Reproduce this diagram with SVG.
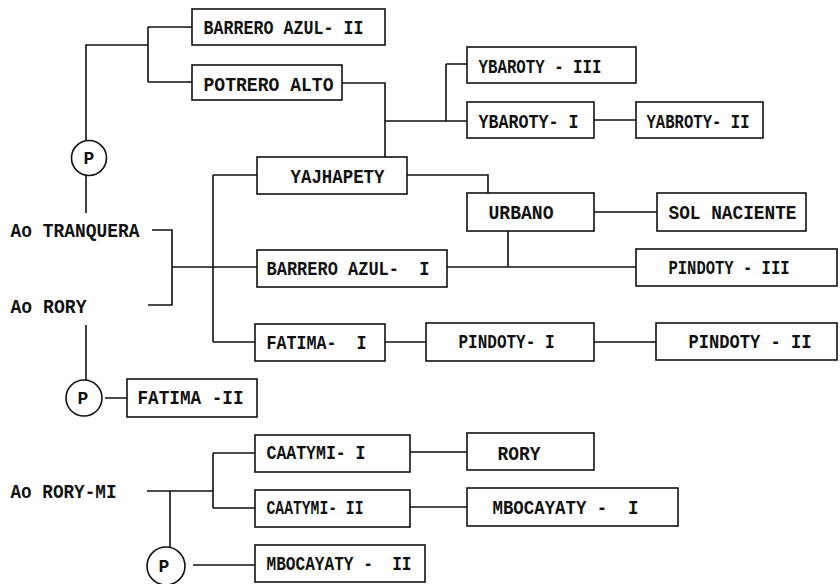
<svg xmlns="http://www.w3.org/2000/svg" width="840" height="584" viewBox="0 0 840 584">
<style>
.b{fill:#fff;stroke:#111;stroke-width:1.6}
.c{fill:none;stroke:#111;stroke-width:1.6}
.t{font-family:"Liberation Mono","DejaVu Sans Mono",monospace;font-weight:bold;font-size:20px;fill:#111;white-space:pre}
.p{font-family:"Liberation Mono","DejaVu Sans Mono",monospace;font-weight:bold;font-size:18px;fill:#111;text-anchor:middle}
</style>
<rect width="840" height="584" fill="#fff"/>
<g id="connectors" class="c">
<path d="M86 140V45H148M148 27V82M148 27H192M148 82H192"/>
<path d="M86 176V213"/>
<path d="M342 83H385V157M385 121H446M446 64V121M446 64H467M446 121H467"/>
<path d="M594 120H636"/>
<path d="M407 175H488V193"/>
<path d="M594 212H657"/>
<path d="M508 231V267M447 267H636"/>
<path d="M152 230H172V305H148M172 267H257"/>
<path d="M213 175V342M213 175H257M213 342H255"/>
<path d="M385 342H426M594 342H656"/>
<path d="M86 325V380M105 398H127"/>
<path d="M147 491H213M213 453V508M213 453H255M213 508H255"/>
<path d="M170 491V547M193 565H255"/>
<path d="M410 452H467M410 507H467"/>
</g>
<g id="n-barrero-azul-2"><rect class="b" x="192" y="9" width="193" height="36"/><text class="t" x="203.5" y="34" textLength="160" lengthAdjust="spacingAndGlyphs">BARRERO AZUL- II</text></g>
<g id="n-potrero-alto"><rect class="b" x="192" y="65" width="150" height="35"/><text class="t" x="203.5" y="91" textLength="130" lengthAdjust="spacingAndGlyphs">POTRERO ALTO</text></g>
<g id="n-ybaroty-3"><rect class="b" x="467" y="47" width="169" height="36"/><text class="t" x="478.5" y="73" textLength="123" lengthAdjust="spacingAndGlyphs">YBAROTY - III</text></g>
<g id="n-ybaroty-1"><rect class="b" x="467" y="102" width="127" height="36"/><text class="t" x="478.5" y="128" textLength="100" lengthAdjust="spacingAndGlyphs">YBAROTY- I</text></g>
<g id="n-yabroty-2"><rect class="b" x="636" y="102" width="127" height="36"/><text class="t" x="646.5" y="128" textLength="103" lengthAdjust="spacingAndGlyphs">YABROTY- II</text></g>
<g id="n-yajhapety"><rect class="b" x="257" y="157" width="150" height="37"/><text class="t" x="290.5" y="183" textLength="94" lengthAdjust="spacingAndGlyphs">YAJHAPETY</text></g>
<g id="n-urbano"><rect class="b" x="467" y="193" width="127" height="38"/><text class="t" x="488.5" y="219" textLength="65" lengthAdjust="spacingAndGlyphs">URBANO</text></g>
<g id="n-sol-naciente"><rect class="b" x="657" y="193" width="149" height="38"/><text class="t" x="668.5" y="219" textLength="128" lengthAdjust="spacingAndGlyphs">SOL NACIENTE</text></g>
<g id="n-barrero-azul-1"><rect class="b" x="257" y="250" width="190" height="37"/><text class="t" x="266.5" y="275" textLength="163" lengthAdjust="spacingAndGlyphs">BARRERO AZUL-  I</text></g>
<g id="n-pindoty-3"><rect class="b" x="636" y="249" width="201" height="37"/><text class="t" x="668.5" y="274" textLength="121" lengthAdjust="spacingAndGlyphs">PINDOTY - III</text></g>
<g id="n-fatima-1"><rect class="b" x="255" y="324" width="130" height="37"/><text class="t" x="266.5" y="349" textLength="100" lengthAdjust="spacingAndGlyphs">FATIMA-  I</text></g>
<g id="n-pindoty-1"><rect class="b" x="426" y="323" width="168" height="38"/><text class="t" x="458.5" y="348" textLength="96" lengthAdjust="spacingAndGlyphs">PINDOTY- I</text></g>
<g id="n-pindoty-2"><rect class="b" x="656" y="323" width="181" height="37"/><text class="t" x="688.5" y="348" textLength="123" lengthAdjust="spacingAndGlyphs">PINDOTY - II</text></g>
<g id="n-fatima-2"><rect class="b" x="127" y="379" width="130" height="38"/><text class="t" x="137.5" y="404" textLength="106" lengthAdjust="spacingAndGlyphs">FATIMA -II</text></g>
<g id="n-caatymi-1"><rect class="b" x="255" y="435" width="155" height="37"/><text class="t" x="266.5" y="459" textLength="99" lengthAdjust="spacingAndGlyphs">CAATYMI- I</text></g>
<g id="n-caatymi-2"><rect class="b" x="255" y="490" width="155" height="37"/><text class="t" x="266.5" y="514" textLength="97" lengthAdjust="spacingAndGlyphs">CAATYMI- II</text></g>
<g id="n-mbocayaty-2"><rect class="b" x="255" y="545" width="170" height="37"/><text class="t" x="266.5" y="570" textLength="145" lengthAdjust="spacingAndGlyphs">MBOCAYATY -  II</text></g>
<g id="n-rory"><rect class="b" x="467" y="433" width="127" height="37"/><text class="t" x="497.5" y="460" textLength="43" lengthAdjust="spacingAndGlyphs">RORY</text></g>
<g id="n-mbocayaty-1"><rect class="b" x="467" y="488" width="211" height="38"/><text class="t" x="492.5" y="514" textLength="146" lengthAdjust="spacingAndGlyphs">MBOCAYATY -  I</text></g>
<g id="n-ao-tranquera"><text class="t" x="10.5" y="237" textLength="129" lengthAdjust="spacingAndGlyphs">Ao TRANQUERA</text></g>
<g id="n-ao-rory"><text class="t" x="10.5" y="313" textLength="76" lengthAdjust="spacingAndGlyphs">Ao RORY</text></g>
<g id="n-ao-rory-mi"><text class="t" x="10.5" y="498" textLength="106" lengthAdjust="spacingAndGlyphs">Ao RORY-MI</text></g>
<g id="n-p1"><circle class="b" cx="89" cy="158" r="17.5"/><text class="p" x="89" y="164">P</text></g>
<g id="n-p2"><circle class="b" cx="84" cy="398" r="18"/><text class="p" x="83" y="404">P</text></g>
<g id="n-p3"><circle class="b" cx="166" cy="566" r="19"/><text class="p" x="164" y="572">P</text></g>
</svg>
